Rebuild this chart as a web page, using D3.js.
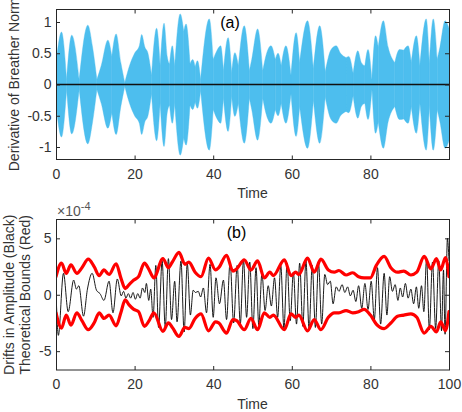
<!DOCTYPE html>
<html><head><meta charset="utf-8">
<script src="https://cdn.jsdelivr.net/npm/d3@7"></script>
<style>
html,body{margin:0;padding:0;background:#fff;}
svg{display:block;font-family:"Liberation Sans",Arial,Helvetica,sans-serif;}
</style></head><body>
<svg id="c" width="462" height="412"></svg>
<script>
// ---------- DATA ----------
// Panel (a): envelope of the (fast-oscillating) derivative of breather norm
const envTime  = [0,1.4,2.7,4.0,5.9,8.1,9.3,10.4,11.5,13.2,14.2,15.3,16.5,17.5,18.7,20.0,21.2,21.8,22.6,23.4,24.3,25.6,26.5,27.5,28.3,28.9,29.6,30.2,31.6,32.5,33.1,34.1,34.8,35.4,36.0,36.8,39.0,40.0,41.0,41.9,42.6,43.8,44.7,45.5,46.4,47.9,49.2,49.8,51.3,52.6,53.6,54.7,55.8,56.5,57.3,58.5,59.8,61.1,62.0,64.0,65.5,67.1,68.5,70.0,71.3,72.4,73.8,74.5,75.6,76.8,77.7,78.6,79.4,80.4,81.3,82.0,83.3,84.5,86.2,87.4,88.5,89.6,90.4,91.7,92.6,94.2,95.0,96.0,97.0,97.7,99.0,100];
const envUpper = [0.32,0.84,0.08,0.79,0.08,0.95,0.6,0.08,0.3,0.71,0.45,0.81,0.35,0.03,0.3,0.5,0.62,0.8,0.6,0.5,0.15,0.9,0.3,0.98,0.45,0.33,0.62,0.3,1.13,0.85,0.97,0.33,0.4,0.28,0.38,0.08,1.05,0.4,0.55,0.62,0.22,0.75,0.19,0.51,0.3,0.94,0.22,0.4,0.89,0.22,0.5,0.62,0.4,0.5,0.3,0.62,0.15,0.83,0.35,1.02,0.25,0.94,0.2,0.56,0.62,0.5,0.43,0.45,0.18,0.54,0.35,0.3,0.56,0.08,0.78,0.6,1.02,0.6,0.35,0.56,0.55,0.62,0.35,0.78,0.3,1.05,0.35,1.05,0.4,0.6,1.02,0.9];
const envLower = [-0.32,-0.84,-0.08,-0.79,-0.08,-0.95,-0.6,-0.08,-0.3,-0.7,-0.45,-0.8,-0.35,-0.03,-0.3,-0.5,-0.62,-0.8,-0.6,-0.5,-0.15,-0.9,-0.3,-0.99,-0.45,-0.33,-0.62,-0.3,-1.13,-0.85,-0.97,-0.33,-0.4,-0.28,-0.38,-0.1,-1.05,-0.4,-0.55,-0.62,-0.22,-0.75,-0.19,-0.51,-0.3,-0.94,-0.22,-0.4,-0.89,-0.22,-0.5,-0.62,-0.4,-0.5,-0.3,-0.62,-0.15,-0.83,-0.35,-1.02,-0.25,-0.94,-0.2,-0.56,-0.62,-0.5,-0.43,-0.45,-0.18,-0.54,-0.35,-0.3,-0.56,-0.08,-0.78,-0.6,-1.02,-0.6,-0.35,-0.56,-0.55,-0.62,-0.35,-0.78,-0.3,-1.05,-0.35,-1.05,-0.4,-0.6,-1.02,-0.9];
const zeroLine = [0, 0];

// Panel (b): drift in amplitude (black), values in units of 1e-4
const driftTime  = [0,0.6,1.9,3.1,4.5,5.2,5.8,7.0,8.0,9.2,10.3,11.2,12.2,13.5,14.5,15.6,16.6,17.2,17.8,18.4,19.0,19.6,20.2,20.8,21.4,22.0,22.6,23.0,23.6,24.1,24.7,25.4,26.1,27.0,27.8,28.6,29.4,30.2,30.8,31.8,32.6,33.4,34.2,34.9,35.5,36.2,36.8,37.5,38.3,39.2,40.0,40.7,41.6,42.6,43.4,44.3,45.2,46.1,46.9,47.7,48.5,49.3,50.1,50.9,51.6,52.4,53.2,54.0,54.8,55.6,56.4,57.2,58.0,58.8,59.6,60.4,61.2,62.0,62.8,63.6,64.4,65.2,66.0,66.8,67.6,68.4,69.1,69.8,70.5,71.3,72.0,72.8,73.5,74.2,74.9,75.6,76.3,77.0,77.8,78.6,79.4,80.2,81.0,81.8,82.6,83.5,84.2,84.9,85.6,86.3,87.0,87.6,88.2,88.9,89.6,90.3,91.0,91.7,92.3,93.0,93.6,94.3,95.0,95.8,96.6,97.4,98.1,98.6,99.0,99.6,100];
const driftValue = [0.3,-3.6,1.9,-1.5,1.3,0.5,0.8,-1.9,0.5,1.9,0.4,0.1,-0.5,1.2,-1.6,1.4,-0.1,0.3,-0.3,0.1,-0.3,0.2,-0.4,0.1,-0.3,0.6,0.2,1.0,-0.5,0.5,-2.0,2.6,-2.9,3.0,-2.9,3.2,-2.2,1.2,-2.4,3.0,-3.3,2.8,-1.8,0.4,0.2,0.3,-0.2,0.6,-1.6,2.7,-2.0,1.5,-0.8,1.3,-2.2,2.9,-2.5,2.6,-2.6,3.1,-2.0,2.9,-3.0,2.4,-2.7,1.9,-1.4,0.8,-1.0,1.5,-2.0,2.6,-3.0,2.8,-2.3,2.0,-2.6,2.8,-2.8,3.0,-3.1,2.6,-2.9,2.8,-2.6,1.8,0.9,1.2,-0.8,0.7,0.3,0.9,0.2,0.7,-0.1,0.4,-0.6,0.8,-1.2,1.0,-1.3,1.2,-2.2,2.4,-2.6,1.9,-1.8,1.6,0.3,0.9,-0.5,0.6,-0.2,1.0,-0.3,0.5,-0.8,0.7,-1.2,0.8,-1.5,3.2,-3.1,2.9,-3.0,3.0,-3.2,2.2,-3.5,5.0,3.0];

// Panel (b): theoretical bounds (red), units of 1e-4
const boundTime  = [0,1.4,2.6,3.8,5.3,6.6,8.2,9.7,11.0,12.2,13.5,15.3,16.5,17.6,18.6,19.8,21.0,22.5,23.7,24.9,27.2,28.6,29.6,31.3,32.8,33.8,35.4,36.9,38.8,40.6,41.4,43.4,45.0,46.0,47.9,49.6,51.3,53.0,54.4,55.3,58.1,59.8,61.0,61.8,64.0,65.7,67.4,69.3,70.8,72.0,73.8,75.5,77.0,78.4,80.0,81.5,83.5,85.2,86.9,88.5,90.3,91.8,93.7,95.4,96.8,97.9,99.1,100];
const boundUpper = [1.6,2.8,1.9,2.65,1.9,2.4,3.15,2.5,1.7,2.2,1.8,2.75,1.5,0.55,0.9,1.3,1.6,2.8,2.2,1.5,3.2,2.4,2.9,3.75,2.7,2.9,2.0,1.6,3.25,2.2,2.4,3.5,2.1,2.3,3.1,2.2,3.0,1.5,2.0,1.7,3.1,1.7,2.0,1.8,3.25,2.0,3.15,2.2,2.0,2.15,1.75,1.95,1.6,1.5,1.5,2.6,3.4,2.4,2.0,2.1,1.75,2.0,3.4,2.3,3.2,2.2,3.3,1.6];
const boundLower = [-1.6,-2.95,-1.8,-2.7,-1.6,-2.3,-3.1,-2.5,-1.6,-2.1,-1.8,-2.75,-1.6,-0.45,-0.9,-1.3,-1.5,-2.8,-2.3,-1.6,-3.25,-2.5,-2.9,-3.7,-2.9,-3.0,-2.1,-1.7,-3.2,-2.4,-2.5,-3.4,-2.2,-2.3,-3.1,-2.1,-3.1,-1.6,-2.0,-1.8,-3.1,-1.7,-2.0,-1.8,-3.2,-2.2,-3.1,-2.0,-1.6,-1.6,-1.4,-1.6,-1.5,-1.3,-1.8,-2.6,-3.0,-2.5,-1.9,-1.8,-1.7,-2.0,-3.4,-2.8,-3.3,-2.4,-3.2,-1.5];

// Ticks
const topXTicks = [0,20,40,60,80];
const topYTicks = [-1,-0.5,0,0.5,1];
const botXTicks = [0,20,40,60,80,100];
const botYTicks = [-5,0,5];

// ---------- DRAW ----------
const svg = d3.select("#c");
const axisColor = "#262626";
const x = d3.scaleLinear().domain([0,100]).range([56,449]);
const yA = d3.scaleLinear().domain([-1.2,1.2]).range([159.5,9.5]);
const yB = d3.scaleLinear().domain([-6.67,6.67]).range([370,219.5]);

const defs = svg.append("defs");
defs.append("clipPath").attr("id","clipA").append("rect").attr("x",56.5).attr("y",9.5).attr("width",393).attr("height",150);
defs.append("clipPath").attr("id","clipB").append("rect").attr("x",56.5).attr("y",219.5).attr("width",393).attr("height",150.5);

// Panel (a): fill drawn lobe by lobe (split at envelope minima) so dips stay sharp
const gA = svg.append("g").attr("clip-path","url(#clipA)");
const area = d3.area()
  .x(i=>x(envTime[i]))
  .y0(i=>yA(envLower[i]))
  .y1(i=>yA(envUpper[i]))
  .curve(d3.curveMonotoneX);
const splits = [0];
for (let i=1;i<envTime.length-1;i++){
  if (envUpper[i] < envUpper[i-1] && envUpper[i] < envUpper[i+1]) splits.push(i);
}
splits.push(envTime.length-1);
for (let s=0;s<splits.length-1;s++){
  const idx = d3.range(splits[s], splits[s+1]+1);
  gA.append("path").datum(idx).attr("d",area).attr("fill","#4DBEEE")
    .attr("stroke","#4DBEEE").attr("stroke-width",0.4);
}
gA.append("path").datum(zeroLine)
  .attr("d", d3.line().x((d,i)=>x(i*100)).y(d=>yA(d)))
  .attr("stroke","#111").attr("stroke-width",1.6).attr("fill","none");

// Panel (b)
const gB = svg.append("g").attr("clip-path","url(#clipB)");
gB.append("path").datum(driftTime)
  .attr("d", d3.line().x((d,i)=>x(driftTime[i])).y((d,i)=>yB(driftValue[i])).curve(d3.curveMonotoneX))
  .attr("stroke","#000").attr("stroke-width",0.9).attr("fill","none");
[boundUpper, boundLower].forEach(arr=>{
  gB.append("path").datum(boundTime)
    .attr("d", d3.line().x((d,i)=>x(boundTime[i])).y((d,i)=>yB(arr[i])).curve(d3.curveMonotoneX))
    .attr("stroke","#ff0000").attr("stroke-width",3.2).attr("fill","none")
    .attr("stroke-linejoin","round").attr("stroke-linecap","round");
});

function axes(y, yTop, yBot, xt, yt){
  const fmt = d=>String(d);
  const gb = svg.append("g").attr("transform",`translate(0,${yBot})`)
    .call(d3.axisBottom(x).tickValues(xt).tickSizeInner(-4).tickSizeOuter(0).tickPadding(9.5).tickFormat(fmt));
  const gt = svg.append("g").attr("transform",`translate(0,${yTop})`)
    .call(d3.axisTop(x).tickValues(xt).tickSizeInner(-4).tickSizeOuter(0).tickFormat(""));
  const gl = svg.append("g").attr("transform",`translate(56,0)`)
    .call(d3.axisLeft(y).tickValues(yt).tickSizeInner(-4).tickSizeOuter(0).tickPadding(4.5).tickFormat(fmt));
  const gr = svg.append("g").attr("transform",`translate(449,0)`)
    .call(d3.axisRight(y).tickValues(yt).tickSizeInner(-4).tickSizeOuter(0).tickFormat(""));
  [gb,gt,gl,gr].forEach(g=>{
    g.select(".domain").remove();
    g.selectAll("line").attr("stroke",axisColor);
    g.selectAll("text").attr("fill","#333").attr("font-size",14).attr("font-family","Liberation Sans, Arial, sans-serif");
  });
  svg.append("rect").attr("x",56.5).attr("y",yTop).attr("width",393).attr("height",yBot-yTop)
    .attr("fill","none").attr("stroke",axisColor).attr("stroke-width",1);
}
axes(yA, 9.5, 159.5, topXTicks, topYTicks);
axes(yB, 219.5, 370, botXTicks, botYTicks);

// Labels
svg.append("text").attr("x",252.5).attr("y",198).attr("text-anchor","middle").attr("font-size",14).attr("fill","#333").text("Time");
svg.append("text").attr("x",252.5).attr("y",408.5).attr("text-anchor","middle").attr("font-size",14).attr("fill","#333").text("Time");
svg.append("text").attr("transform","translate(19,84.5) rotate(-90)").attr("text-anchor","middle").attr("font-size",14).attr("fill","#333").text("Derivative of Breather Norm");
svg.append("text").attr("transform","translate(13.5,294.75) rotate(-90)").attr("text-anchor","middle").attr("font-size",14).attr("fill","#333").text("Drifts in Amplitude (Black)");
svg.append("text").attr("transform","translate(30,294.75) rotate(-90)").attr("text-anchor","middle").attr("font-size",14).attr("fill","#333").text("Theoretical Bounds (Red)");
const ex = svg.append("text").attr("x",57).attr("y",216).attr("font-size",14).attr("fill","#555");
ex.append("tspan").text("\u00d710");
ex.append("tspan").attr("font-size",11).attr("dy",-6).text("-4");
svg.append("text").attr("x",230).attr("y",28).attr("text-anchor","middle").attr("font-size",16).attr("fill","#000").text("(a)");
svg.append("text").attr("x",236.5).attr("y",238).attr("text-anchor","middle").attr("font-size",16).attr("fill","#000").text("(b)");
</script>
</body></html>
